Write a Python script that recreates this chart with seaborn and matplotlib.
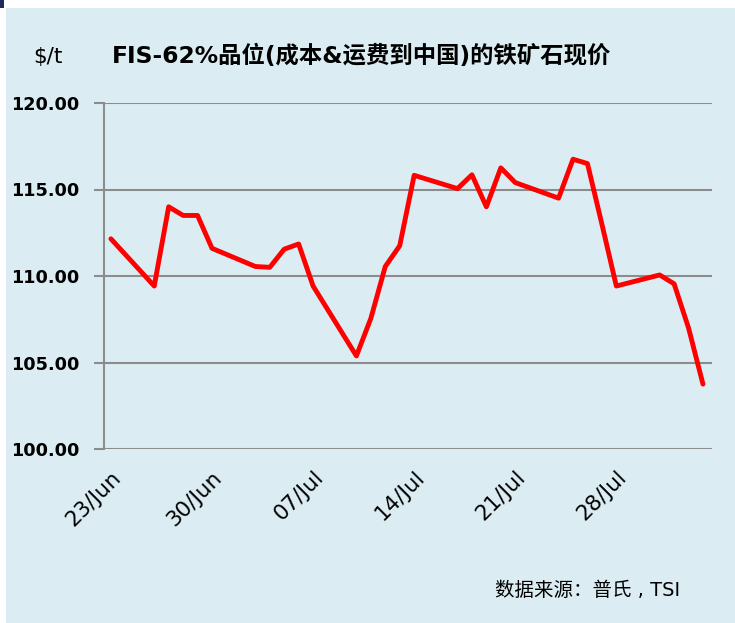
import pandas as pd
import matplotlib
matplotlib.use('Agg')
import matplotlib.pyplot as plt
import matplotlib.dates as mdates
import matplotlib.transforms as mtrans
from matplotlib.patches import Rectangle
import seaborn as sns

# 交易日和价格 (美元/吨)
dias = ['2017-06-23', '2017-06-26', '2017-06-27', '2017-06-28', '2017-06-29', '2017-06-30',
        '2017-07-03', '2017-07-04', '2017-07-05', '2017-07-06', '2017-07-07',
        '2017-07-10', '2017-07-11', '2017-07-12', '2017-07-13', '2017-07-14',
        '2017-07-17', '2017-07-18', '2017-07-19', '2017-07-20', '2017-07-21',
        '2017-07-24', '2017-07-25', '2017-07-26', '2017-07-27', '2017-07-28',
        '2017-07-31', '2017-08-01', '2017-08-02', '2017-08-03']
precos = [112.15, 109.42, 114.00, 113.50, 113.50, 111.60,
          110.55, 110.50, 111.55, 111.85, 109.42,
          105.38, 107.55, 110.55, 111.75, 115.82,
          115.05, 115.85, 114.00, 116.25, 115.40,
          114.50, 116.75, 116.50, 113.00, 109.42,
          110.06, 109.55, 107.00, 103.75]
yticks = [100, 105, 110, 115, 120]
xticks = ['2017-06-23', '2017-06-30', '2017-07-07', '2017-07-14', '2017-07-21', '2017-07-28']

df = pd.DataFrame({'data': pd.to_datetime(dias), 'preco': precos})

sns.set_theme(style='white')
plt.rcParams['font.family'] = ['DejaVu Sans', 'Noto Sans CJK SC']
plt.rcParams['text.color'] = 'black'
plt.rcParams['xtick.color'] = 'black'
plt.rcParams['ytick.color'] = 'black'

fundo = '#dbedf3'
fig = plt.figure(figsize=(7.35, 6.23), dpi=100, facecolor='white')
fig.patches.append(Rectangle((6 / 735, 0), 1, 1 - 8 / 623, transform=fig.transFigure,
                             facecolor=fundo, edgecolor='none', zorder=-10))
fig.patches.append(Rectangle((0, 1 - 8 / 623), 4 / 735, 8 / 623, transform=fig.transFigure,
                             facecolor='#1f2a5c', edgecolor='none', zorder=-10))

ax = fig.add_axes([104 / 735, 1 - 449 / 623, 608 / 735, 346 / 623])
ax.set_facecolor(fundo)
ax.set_zorder(1)

sns.lineplot(data=df, x='data', y='preco', ax=ax, color='#ff0000', linewidth=3.5)

ax.set_ylim(100, 120)
ax.set_yticks(yticks)
ax.set_yticklabels([f'{v:.2f}' for v in yticks], fontsize=12.7, fontweight='bold')
ax.yaxis.grid(True, color='#8c8c8c', linewidth=1.5)
ax.set_axisbelow(True)

t0 = pd.Timestamp('2017-06-23')
ax.set_xlim(mdates.date2num(t0 - pd.Timedelta(hours=11.5)),
            mdates.date2num(pd.Timestamp('2017-08-03') + pd.Timedelta(hours=15)))
ax.set_xticks(pd.to_datetime(xticks))
ax.xaxis.set_major_formatter(mdates.DateFormatter('%d/%b'))
desloc = mtrans.ScaledTranslation(8 / 100, 0, fig.dpi_scale_trans)
for rotulo in ax.get_xticklabels():
    rotulo.set_rotation(45)
    rotulo.set_ha('right')
    rotulo.set_rotation_mode('anchor')
    rotulo.set_fontsize(15.5)
    rotulo.set_transform(rotulo.get_transform() + desloc)
ax.tick_params(axis='x', length=0, pad=13)
ax.tick_params(axis='y', length=7, color='#8c8c8c', width=1.5, left=True, pad=11)

for lado in ['top', 'right', 'bottom']:
    ax.spines[lado].set_visible(False)
ax.spines['left'].set_color('#8c8c8c')
ax.spines['left'].set_linewidth(1.5)
ax.set_xlabel('')
ax.set_ylabel('')

fig.text(33 / 735, 1 - 57 / 623, '$/t', fontsize=15.5, va='center', ha='left')
fig.text(112 / 735, 1 - 56 / 623, 'FIS-62%品位(成本&运费到中国)的铁矿石现价',
         fontsize=16.8, fontweight='bold', va='center', ha='left')
fig.text(680 / 735, 1 - 591 / 623, '数据来源：普氏 , TSI', fontsize=14,
         va='center', ha='right')

fig.savefig('out.png', dpi=100, facecolor=fig.get_facecolor())
